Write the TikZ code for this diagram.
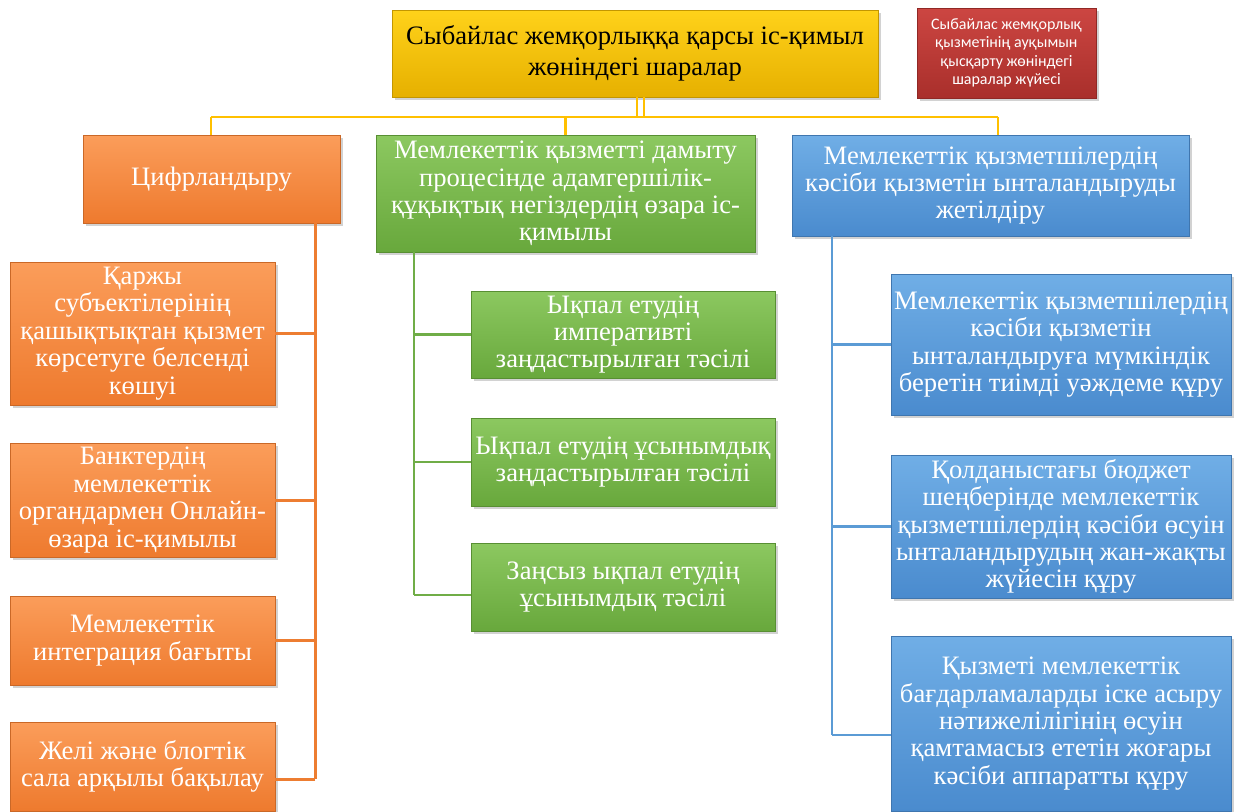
\documentclass[tikz,border=0pt]{standalone}
\usepackage{fontspec}
\setmainfont{Liberation Serif}
\newfontfamily\calfont{Carlito}
\usetikzlibrary{shadows}
\definecolor{ylTop}{HTML}{FFD21A}
\definecolor{ylBot}{HTML}{E6B000}
\definecolor{ylLine}{HTML}{FFC000}
\definecolor{rdTop}{HTML}{CC4642}
\definecolor{rdBot}{HTML}{A92F2B}
\definecolor{orTop}{HTML}{FB9D5A}
\definecolor{orBot}{HTML}{EE7A2E}
\definecolor{orLine}{HTML}{ED7D31}
\definecolor{grTop}{HTML}{8CC860}
\definecolor{grBot}{HTML}{68A83C}
\definecolor{grLine}{HTML}{70AD47}
\definecolor{blTop}{HTML}{70AEE6}
\definecolor{blBot}{HTML}{4A8BCE}
\definecolor{blLine}{HTML}{5B9BD5}
\tikzset{
  basebox/.style={rectangle, align=center, inner sep=0pt,
    drop shadow={opacity=0.35, shadow xshift=1.5pt, shadow yshift=-1.5pt},
    font=\fontsize{13.3}{13.7}\selectfont, text=white},
  ybox/.style={basebox, top color=ylTop, bottom color=ylBot, draw=ylBot!85!black, line width=0.4pt,
    text=black, font=\fontsize{13.3}{15.5}\selectfont},
  rbox/.style={basebox, top color=rdTop, bottom color=rdBot, draw=rdBot!85!black, line width=0.4pt,
    font=\calfont\fontsize{8}{9.2}\selectfont},
  obox/.style={basebox, top color=orTop, bottom color=orBot, draw=orBot!85!black, line width=0.4pt},
  gbox/.style={basebox, top color=grTop, bottom color=grBot, draw=grBot!85!black, line width=0.4pt},
  bbox/.style={basebox, top color=blTop, bottom color=blBot, draw=blBot!85!black, line width=0.4pt},
  yline/.style={draw=ylLine, line width=1.2pt},
  oline/.style={draw=orLine, line width=1.5pt},
  gline/.style={draw=grLine, line width=1.3pt},
  bline/.style={draw=blLine, line width=1.3pt},
}
\begin{document}
\begin{tikzpicture}[x=0.5pt,y=-0.5pt]
\useasboundingbox (0,0) rectangle (1234,811);
\fill[white] (0,0) rectangle (1234,811);

\coordinate (J1) at (637,117);
\coordinate (J2) at (644,117);
\coordinate (hl) at (211,117);
\coordinate (hr) at (998,117);
\coordinate (ot) at (315,779);
\coordinate (gt) at (414,595);
\coordinate (bt) at (832,735);

\node[ybox, minimum width=243pt, minimum height=43.5pt] (top) at (635,53.5)
  {Сыбайлас жемқорлыққа қарсы іс-қимыл\\жөніндегі шаралар};
\node[obox, minimum width=128.5pt, minimum height=44pt] (o0) at (211.5,179) {Цифрландыру};
\node[gbox, minimum width=189.5pt, minimum height=58.5pt] (g0) at (565.5,193.5)
  {Мемлекеттік қызметті дамыту\\процесінде адамгершілік-\\құқықтық негіздердің өзара іс-\\қимылы};
\node[bbox, minimum width=198.5pt, minimum height=50.5pt] (b0) at (990.5,185.5)
  {Мемлекеттік қызметшілердің\\кәсіби қызметін ынталандыруды\\жетілдіру\hspace{1.2em}};

\draw[yline] (top.south -| J1) -- (J1);
\draw[yline] (top.south -| J2) -- (J2);
\draw[yline] (hl) -- (hr);
\draw[yline] (hl) -- (hl |- o0.north);
\draw[yline] (g0.north |- hl) -- (g0.north);
\draw[yline] (hr) -- (hr |- b0.north);

\draw[oline] (o0.south -| ot) -- (ot);
\draw[gline] (g0.south -| gt) -- (gt);
\draw[bline] (b0.south -| bt) -- (bt);

\node[obox, minimum width=132.5pt, minimum height=71.5pt] (o1) at (142.5,333.5)
  {Қаржы\\субъектілерінің\\қашықтықтан қызмет\\көрсетуге белсенді\\көшуі};
\node[obox, minimum width=132.5pt, minimum height=57pt] (o2) at (142.5,500)
  {Банктердің\\мемлекеттік\\органдармен Онлайн-\\өзара іс-қимылы};
\node[obox, minimum width=132.5pt, minimum height=44.5pt] (o3) at (142.5,640.5)
  {Мемлекеттік\\интеграция бағыты};
\node[obox, minimum width=132.5pt, minimum height=44.5pt] (o4) at (142.5,766.5)
  {Желі және блогтік\\сала арқылы бақылау};

\node[gbox, minimum width=152pt, minimum height=43.5pt] (g1) at (623,334.5)
  {Ықпал етудің\\императивті\\заңдастырылған тәсілі};
\node[gbox, minimum width=152pt, minimum height=44pt] (g2) at (623,462)
  {Ықпал етудің ұсынымдық\\заңдастырылған тәсілі};
\node[gbox, minimum width=152pt, minimum height=44pt] (g3) at (623,587)
  {Заңсыз ықпал етудің\\ұсынымдық тәсілі};

\node[bbox, minimum width=170pt, minimum height=70.5pt] (b1) at (1061,344.5)
  {Мемлекеттік қызметшілердің\\кәсіби қызметін\\ынталандыруға мүмкіндік\\беретін тиімді уәждеме құру};
\node[bbox, minimum width=170pt, minimum height=71.5pt] (b2) at (1061,526.5)
  {Қолданыстағы бюджет\\шеңберінде мемлекеттік\\қызметшілердің кәсіби өсуін\\ынталандырудың жан-жақты\\жүйесін құру};
\node[bbox, minimum width=170pt, minimum height=87.5pt] (b3) at (1061,723.5)
  {Қызметі мемлекеттік\\бағдарламаларды іске асыру\\нәтижелілігінің өсуін\\қамтамасыз ететін жоғары\\кәсіби аппаратты құру};

\node[rbox, minimum width=89.5pt, minimum height=45pt] (red) at (1006.5,53)
  {Сыбайлас жемқорлық\\қызметінің ауқымын\\қысқарту жөніндегі\\шаралар жүйесі};

\draw[oline] (o1.east) -- (o1.east -| ot);
\draw[oline] (o2.east) -- (o2.east -| ot);
\draw[oline] (o3.east) -- (o3.east -| ot);
\draw[oline] (ot) -- (ot -| o4.east);

\draw[gline] (g1.west -| gt) -- (g1.west);
\draw[gline] (g2.west -| gt) -- (g2.west);
\draw[gline] (gt) -- (gt -| g3.west);

\draw[bline] (b1.west -| bt) -- (b1.west);
\draw[bline] (b2.west -| bt) -- (b2.west);
\draw[bline] (bt) -- (bt -| b3.west);
\end{tikzpicture}
\end{document}
